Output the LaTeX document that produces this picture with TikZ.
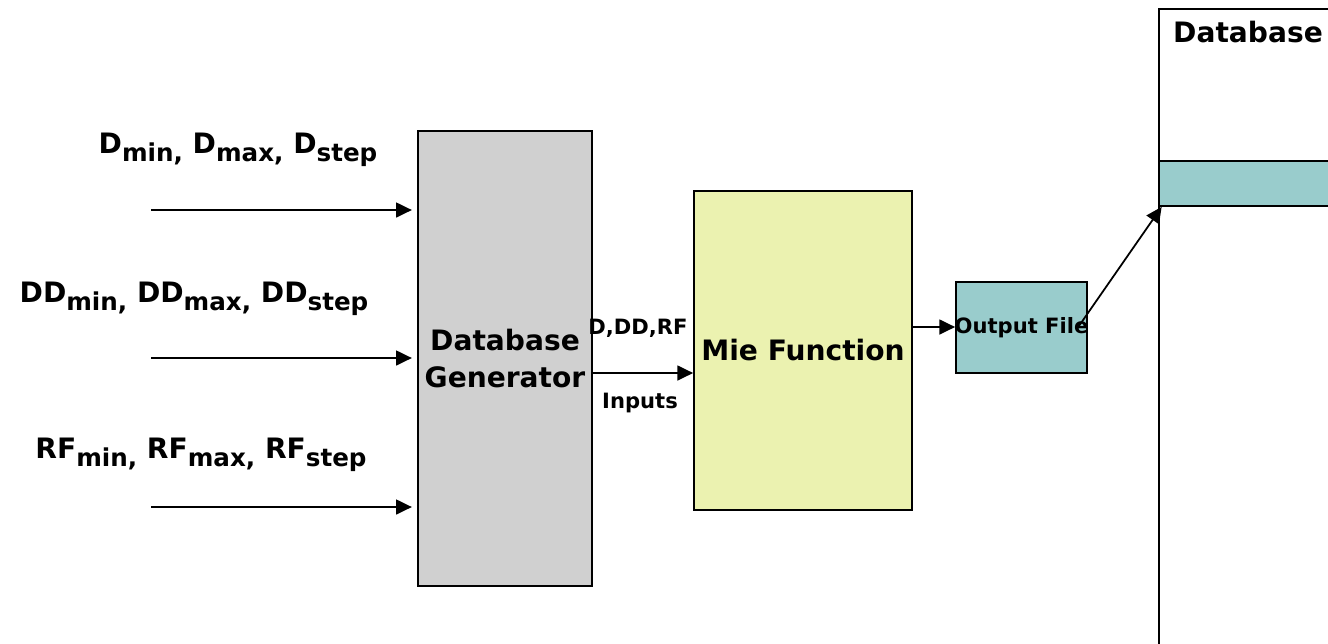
\documentclass[tikz,border=0pt]{standalone}
\usepackage{fontspec}
\setmainfont{DejaVu Sans}
\usetikzlibrary{arrows.meta}

\definecolor{gris}{HTML}{D0D0D0}
\definecolor{amarillo}{HTML}{EBF2B0}
\definecolor{turquesa}{HTML}{99CCCC}

\newcommand{\subtxt}[1]{\raisebox{-4.7pt}{\fontsize{14}{15}\selectfont #1}}

\begin{document}
\begin{tikzpicture}[x = 0.02cm, y = -0.02cm, font = \bfseries, caja/.style = {draw, line width=1pt, inner sep=0pt}, flecha/.style = {-{Triangle[length=9pt,width=8.5pt]}, line width=1pt}, grande/.style = {font=\bfseries\fontsize{16}{21}\selectfont}, chico/.style = {font=\bfseries\fontsize{12}{14}\selectfont},]
		\clip (0,0) rectangle (1328,643);
		\node[caja, fill=gris, minimum width=3.48cm, minimum height=9.1cm, grande, align=center] (gen) at (505,358.5) {Database\\Generator};
		\node[caja, fill=amarillo, minimum width=4.36cm, minimum height=6.38cm, grande] (mie) at (803,350.5) {Mie Function};
		\node[caja, fill=turquesa, minimum width=2.62cm, minimum height=1.82cm] (out) at (1021.5,327.5) {};
		\node[chico] (outtxt) at (1021.5,328) {Output File};
		\node[caja, fill=white, minimum width=3.56cm, minimum height=13.82cm] (db) at (1248,354.5) {};
		\node[grande, anchor=north] (dbtxt) at (1248,15) {Database};
		\node[caja, fill=turquesa, minimum width=3.56cm, minimum height=0.9cm] (band) at (1248,183.5) {};
		
		\node[grande, anchor=base] (d) at (238,153) {D\subtxt{min,} D\subtxt{max,} D\subtxt{step}};
		\node[grande, anchor=base] (dd) at (194,302) {DD\subtxt{min,} DD\subtxt{max,} DD\subtxt{step}};
		\node[grande, anchor=base] (rf) at (201,458) {RF\subtxt{min,} RF\subtxt{max,} RF\subtxt{step}};
		\node[chico] (ins) at (638,328) {D,DD,RF};
		\node[chico] (inp) at (640,403) {Inputs};
		
		\coordinate (a1) at (151,210);
		\coordinate (a2) at (151,358);
		\coordinate (a3) at (151,507);
		\coordinate (g) at (592,373);
		\coordinate (m) at (912,327);
		
		\draw[flecha] (a1) -- ([xshift=-3pt]a1 -| gen.west);
		\draw[flecha] (a2) -- ([xshift=-3pt]a2 -| gen.west);
		\draw[flecha] (a3) -- ([xshift=-3pt]a3 -| gen.west);
		\draw[flecha] (g) -- (g -| mie.west);
		\draw[flecha] (m) -- (m -| out.west);
		\draw[flecha] ([xshift=-0.2cm]out.east) -- ([xshift=2pt]band.south west);
	\end{tikzpicture}
\end{document}
